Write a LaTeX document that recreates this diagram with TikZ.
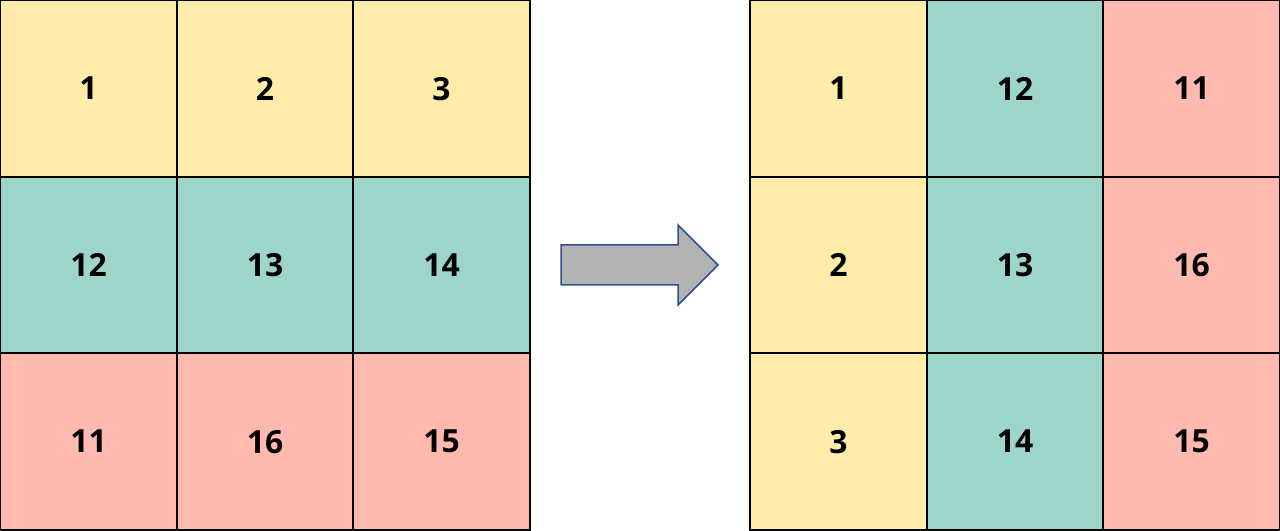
\documentclass[tikz,border=0pt]{standalone}
\usepackage{fontspec}
\setmainfont{Open Sans}
\definecolor{yel}{HTML}{FFECA8}
\definecolor{teal}{HTML}{9DD5CB}
\definecolor{pnk}{HTML}{FFB9AF}
\definecolor{arrowfill}{HTML}{B3B3B3}
\definecolor{arrowline}{HTML}{2F528F}
\begin{document}
\begin{tikzpicture}[x=1bp,y=-1bp,
        every node/.style = {shape=rectangle, draw, line width=2bp,
            minimum size=176.5bp, inner sep=0pt, text depth=0pt,
            font=\fontsize{32}{36}\selectfont\bfseries}]
        \useasboundingbox (0,0) rectangle (1280,531);
        % left grid
        \node[fill=yel] (l1) at (88.5, 88.5) {1};
        \node[fill=yel] (l2) at (265, 88.5) {2};
        \node[fill=yel] (l3) at (441.5, 88.5) {3};
        \node[fill=teal] (l12) at (88.5, 265) {12};
        \node[fill=teal] (l13) at (265, 265) {13};
        \node[fill=teal] (l14) at (441.5, 265) {14};
        \node[fill=pnk] (l11) at (88.5, 441.5) {11};
        \node[fill=pnk] (l16) at (265, 441.5) {16};
        \node[fill=pnk] (l15) at (441.5, 441.5) {15};
        % right grid
        \node[fill=yel] (r1) at (838.5, 88.5) {1};
        \node[fill=yel] (r2) at (838.5, 265) {2};
        \node[fill=yel] (r3) at (838.5, 441.5) {3};
        \node[fill=teal] (r12) at (1015, 88.5) {12};
        \node[fill=teal] (r13) at (1015, 265) {13};
        \node[fill=teal] (r14) at (1015, 441.5) {14};
        \node[fill=pnk] (r11) at (1191.5, 88.5) {11};
        \node[fill=pnk] (r16) at (1191.5, 265) {16};
        \node[fill=pnk] (r15) at (1191.5, 441.5) {15};
        % arrow
        \draw[fill=arrowfill, draw=arrowline, line width=1.5bp, line join=miter]
            (561,245) -- (678,245) -- (678,225) -- (718,265)
            -- (678,305) -- (678,285) -- (561,285) -- cycle;
    \end{tikzpicture}
\end{document}
